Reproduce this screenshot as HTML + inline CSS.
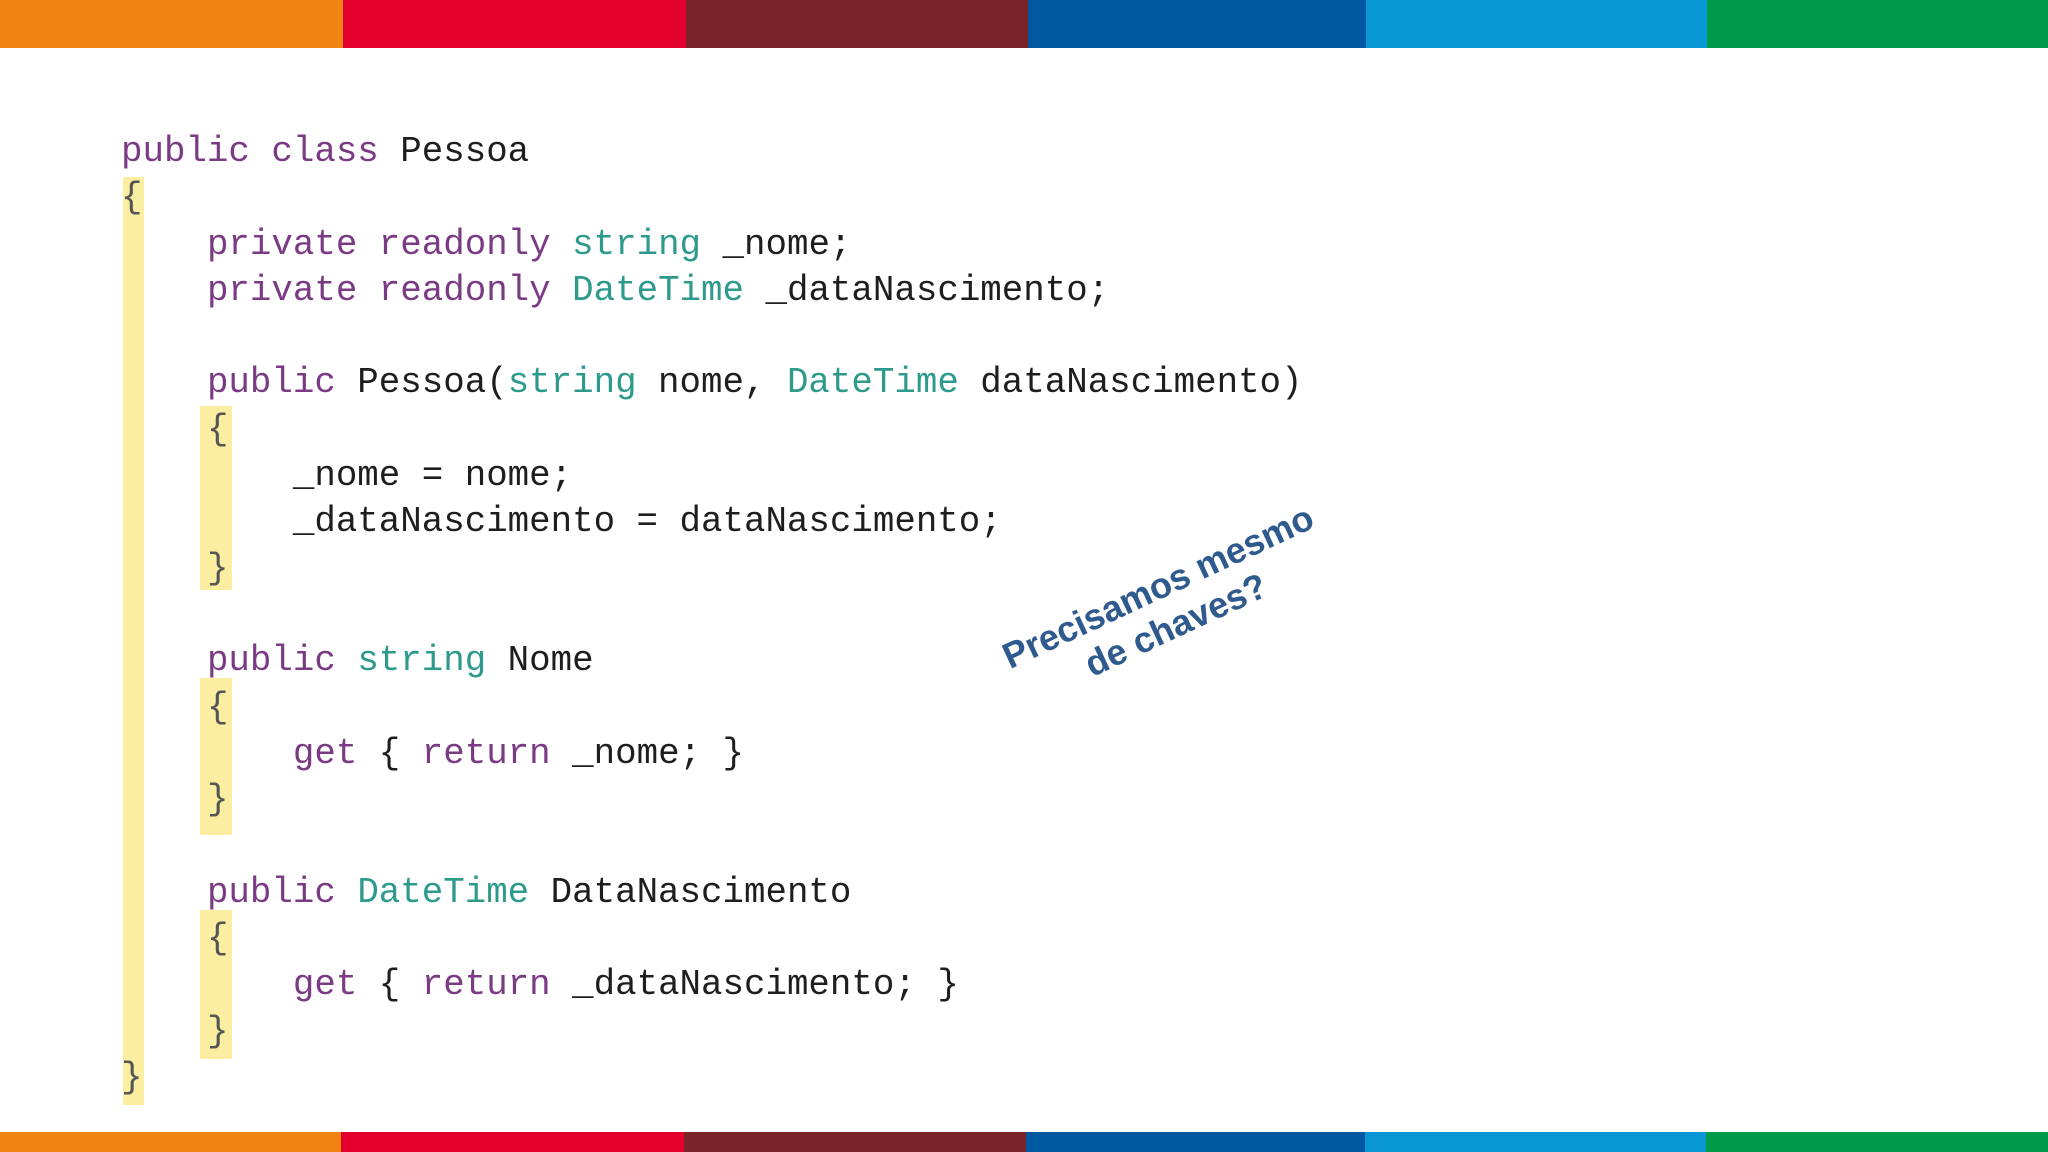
<!DOCTYPE html>
<html><head><meta charset="utf-8"><style>
html,body{margin:0;padding:0}
body{width:2048px;height:1152px;position:relative;background:#fff;overflow:hidden}
.bar{position:absolute;display:flex;left:0;width:2048px}
.bar div{height:100%}
.y{position:absolute;background:#fbeea0}
.l{position:absolute;font-family:"Liberation Mono",monospace;font-size:35.8px;line-height:46.3px;white-space:pre;color:#1e1e1e}
.k{color:#7b3a84}.t{color:#2e9a8c}.b{color:#555}
.note{position:absolute;left:1167px;top:606px;transform:translate(-50%,-50%) rotate(-25deg);font-family:"Liberation Sans",sans-serif;font-weight:bold;font-size:36px;color:#2f5a8e;text-align:center;line-height:42px;white-space:nowrap}
</style></head><body>
<div class="bar" style="top:0;height:48px">
<div style="width:343px;background:#f08312"></div><div style="width:343px;background:#e3002d"></div><div style="width:342px;background:#7a2328"></div><div style="width:338px;background:#0058a0"></div><div style="width:341px;background:#0996d4"></div><div style="width:341px;background:#009b4a"></div>
</div>
<div class="bar" style="top:1132px;height:20px">
<div style="width:341px;background:#f08312"></div><div style="width:343px;background:#e3002d"></div><div style="width:342px;background:#7a2328"></div><div style="width:339px;background:#0058a0"></div><div style="width:341px;background:#0996d4"></div><div style="width:342px;background:#009b4a"></div>
</div>
<div class="y" style="left:123px;top:177px;width:21px;height:928px"></div>
<div class="y" style="left:200px;top:406px;width:32px;height:184px"></div>
<div class="y" style="left:200px;top:678px;width:32px;height:157px"></div>
<div class="y" style="left:200px;top:910px;width:32px;height:149px"></div>
<div class="l" style="left:121px;top:129px"><span class="k">public</span> <span class="k">class</span> Pessoa
<span class="b">{</span>
    <span class="k">private</span> <span class="k">readonly</span> <span class="t">string</span> _nome;
    <span class="k">private</span> <span class="k">readonly</span> <span class="t">DateTime</span> _dataNascimento;

    <span class="k">public</span> Pessoa(<span class="t">string</span> nome, <span class="t">DateTime</span> dataNascimento)
    <span class="b">{</span>
        _nome = nome;
        _dataNascimento = dataNascimento;
    <span class="b">}</span>

    <span class="k">public</span> <span class="t">string</span> Nome
    <span class="b">{</span>
        <span class="k">get</span> { <span class="k">return</span> _nome; }
    <span class="b">}</span>

    <span class="k">public</span> <span class="t">DateTime</span> DataNascimento
    <span class="b">{</span>
        <span class="k">get</span> { <span class="k">return</span> _dataNascimento; }
    <span class="b">}</span>
<span class="b">}</span></div>
<div class="note">Precisamos mesmo<br>de chaves?</div>
</body></html>
